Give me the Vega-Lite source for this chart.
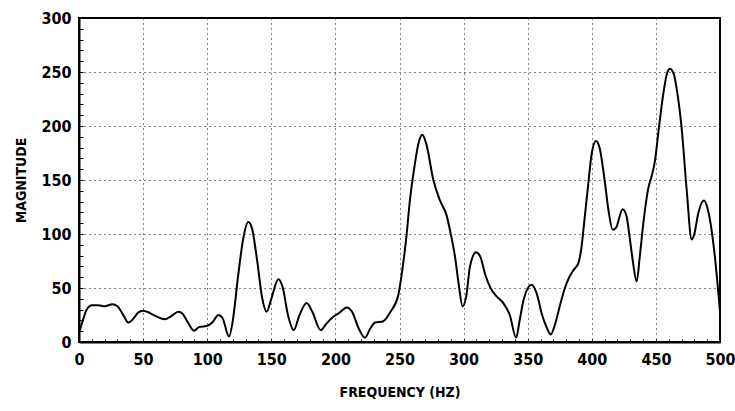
{
  "$schema": "https://vega.github.io/schema/vega-lite/v6.json",
  "width": 641,
  "height": 324,
  "autosize": "none",
  "padding": {"left": 79, "top": 18, "right": 15, "bottom": 69},
  "background": "white",
  "view": {"stroke": "black", "strokeWidth": 2},
  "data": {"values": [
    {"f":0,"m":8},{"f":3,"m":20},{"f":6,"m":30},{"f":10,"m":34},{"f":15,"m":34},{"f":20,"m":33},{"f":26,"m":35},{"f":30,"m":33},{"f":35,"m":24},{"f":38.5,"m":18},
    {"f":42,"m":21},{"f":46,"m":27},{"f":50,"m":29},{"f":55,"m":27},{"f":60,"m":24},{"f":67,"m":21},{"f":72,"m":24},{"f":77.5,"m":28},{"f":81,"m":26},{"f":85,"m":18},
    {"f":89.7,"m":10.5},{"f":94,"m":14},{"f":99.6,"m":14.8},{"f":104,"m":18},{"f":108.7,"m":25},{"f":112,"m":22},{"f":117,"m":5},{"f":120,"m":20},{"f":124,"m":60},{"f":128,"m":95},
    {"f":132,"m":111},{"f":135,"m":105},{"f":139,"m":75},{"f":143,"m":40},{"f":146.4,"m":28},{"f":150,"m":40},{"f":155.5,"m":58},{"f":159,"m":50},{"f":163,"m":25},{"f":167.5,"m":11},
    {"f":172,"m":25},{"f":177.6,"m":36},{"f":182,"m":28},{"f":188.5,"m":11},{"f":193,"m":17},{"f":197,"m":22},{"f":203,"m":27},{"f":209,"m":32},{"f":213,"m":28},{"f":218,"m":13},
    {"f":223,"m":4},{"f":227,"m":12},{"f":231,"m":18},{"f":237,"m":19},{"f":243,"m":28},{"f":249,"m":43},{"f":252,"m":65},{"f":255.6,"m":100},{"f":258,"m":130},{"f":261.6,"m":162},
    {"f":265,"m":185},{"f":267.8,"m":192},{"f":271,"m":183},{"f":276.4,"m":150},{"f":281.6,"m":131},{"f":286.8,"m":117},{"f":290,"m":100},{"f":293.3,"m":79},{"f":296,"m":55},{"f":299.3,"m":33},
    {"f":302,"m":42},{"f":305,"m":70},{"f":309.7,"m":83},{"f":313,"m":79},{"f":317,"m":62},{"f":321,"m":50},{"f":326,"m":42},{"f":331,"m":36},{"f":336,"m":25},{"f":341,"m":4},
    {"f":344,"m":22},{"f":347,"m":40},{"f":353,"m":53},{"f":357,"m":45},{"f":361,"m":26},{"f":365,"m":13},{"f":368,"m":7},{"f":371,"m":15},{"f":375,"m":33},{"f":379,"m":50},
    {"f":382.4,"m":60},{"f":386,"m":67},{"f":389.5,"m":73},{"f":392,"m":88},{"f":394,"m":110},{"f":397.3,"m":147},{"f":400,"m":175},{"f":403.3,"m":186},{"f":406,"m":180},{"f":410.3,"m":147},
    {"f":413,"m":122},{"f":416.3,"m":104},{"f":419,"m":106},{"f":424,"m":123},{"f":427,"m":117},{"f":429.3,"m":99},{"f":432,"m":75},{"f":435,"m":56},{"f":437.5,"m":80},{"f":440.2,"m":110},
    {"f":444,"m":142},{"f":447,"m":155},{"f":449.3,"m":168},{"f":452,"m":195},{"f":455.8,"m":230},{"f":458.5,"m":248},{"f":461,"m":253},{"f":464,"m":248},{"f":466,"m":236},{"f":470,"m":199},
    {"f":474,"m":141},{"f":477.9,"m":95},{"f":480,"m":100},{"f":483,"m":119},{"f":487.5,"m":131},{"f":490,"m":125},{"f":492.2,"m":113},{"f":496,"m":79},{"f":500,"m":28}
  ]},
  "mark": {"type": "line", "color": "black", "strokeWidth": 2, "interpolate": "monotone"},
  "encoding": {
    "x": {
      "field": "f", "type": "quantitative",
      "scale": {"domain": [0, 500], "nice": false},
      "axis": {
        "title": "FREQUENCY (HZ)",
        "values": [0,10,20,30,40,50,60,70,80,90,100,110,120,130,140,150,160,170,180,190,200,210,220,230,240,250,260,270,280,290,300,310,320,330,340,350,360,370,380,390,400,410,420,430,440,450,460,470,480,490,500],
        "labelExpr": "datum.value % 50 === 0 ? datum.label : ''",
        "labelOverlap": false,
        "labelFlush": false,
        "labelFont": "DejaVu Sans Condensed",
        "labelFontSize": 16,
        "labelFontWeight": "bold",
        "labelColor": "black",
        "labelPadding": 12,
        "titleFont": "DejaVu Sans Condensed",
        "titleFontSize": 14,
        "titleFontWeight": "bold",
        "titleColor": "black",
        "titlePadding": 18,
        "domainColor": "black",
        "domainWidth": 2,
        "tickColor": "black",
        "tickSize": -3,
        "tickWidth": 1,
        "grid": true,
        "gridColor": "black",
        "gridDash": [1, 4],
        "gridWidth": 1,
        "gridOpacity": {"condition": {"test": "datum.value % 50 === 0 && datum.value > 0 && datum.value < 500", "value": 1}, "value": 0}
      }
    },
    "y": {
      "field": "m", "type": "quantitative",
      "scale": {"domain": [0, 300], "nice": false},
      "axis": {
        "title": "MAGNITUDE",
        "values": [0,10,20,30,40,50,60,70,80,90,100,110,120,130,140,150,160,170,180,190,200,210,220,230,240,250,260,270,280,290,300],
        "labelExpr": "datum.value % 50 === 0 ? datum.label : ''",
        "labelOverlap": false,
        "labelFlush": false,
        "labelFont": "DejaVu Sans Condensed",
        "labelFontSize": 16,
        "labelFontWeight": "bold",
        "labelColor": "black",
        "labelPadding": 12,
        "titleFont": "DejaVu Sans Condensed",
        "titleFontSize": 14,
        "titleFontWeight": "bold",
        "titleColor": "black",
        "titlePadding": 12,
        "domainColor": "black",
        "domainWidth": 2,
        "tickColor": "black",
        "tickSize": -4,
        "tickWidth": 1,
        "grid": true,
        "gridColor": "black",
        "gridDash": [1, 4],
        "gridWidth": 1,
        "gridOpacity": {"condition": {"test": "datum.value % 50 === 0 && datum.value > 0 && datum.value < 300", "value": 1}, "value": 0}
      }
    }
  }
}
